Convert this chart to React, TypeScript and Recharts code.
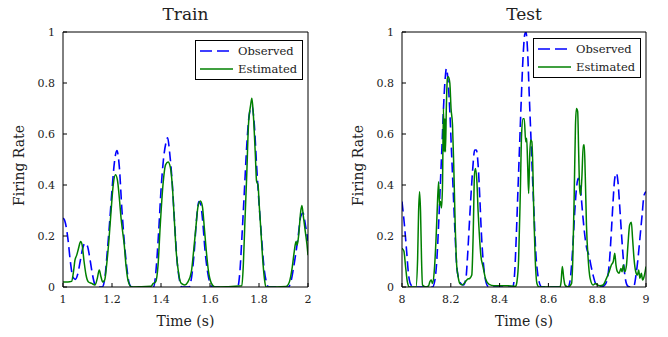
import React from 'react';
import { LineChart, Line, XAxis, YAxis, Legend } from 'recharts';

// firing rate traces (time in s, rate 0..1)
const trainObsTime = [1.00, 1.005, 1.01, 1.02, 1.03, 1.04, 1.05, 1.06, 1.07, 1.08, 1.09, 1.10, 1.11, 1.12, 1.13, 1.14, 1.16, 1.17, 1.18, 1.19, 1.20, 1.21, 1.22, 1.23, 1.24, 1.25, 1.26, 1.27, 1.28, 1.37, 1.38, 1.39, 1.40, 1.41, 1.42, 1.427, 1.435, 1.445, 1.455, 1.465, 1.475, 1.485, 1.515, 1.525, 1.535, 1.545, 1.555, 1.562, 1.57, 1.58, 1.59, 1.60, 1.61, 1.713, 1.722, 1.73, 1.74, 1.75, 1.76, 1.771, 1.781, 1.79, 1.80, 1.81, 1.82, 1.83, 1.84, 1.92, 1.93, 1.94, 1.95, 1.96, 1.97, 1.98, 1.99, 2.00];
const trainObsRate = [0.27, 0.265, 0.25, 0.19, 0.10, 0.04, 0.03, 0.05, 0.10, 0.15, 0.172, 0.16, 0.11, 0.05, 0.01, 0, 0, 0.03, 0.13, 0.25, 0.38, 0.49, 0.535, 0.47, 0.31, 0.18, 0.08, 0.015, 0, 0, 0.07, 0.21, 0.38, 0.50, 0.565, 0.585, 0.53, 0.42, 0.26, 0.11, 0.03, 0, 0, 0.04, 0.13, 0.265, 0.335, 0.325, 0.26, 0.14, 0.06, 0.015, 0, 0, 0.06, 0.19, 0.37, 0.555, 0.675, 0.71, 0.635, 0.48, 0.33, 0.2, 0.08, 0.02, 0, 0, 0.02, 0.07, 0.13, 0.2, 0.275, 0.29, 0.24, 0.18];

const trainEstTime = [1.00, 1.02, 1.035, 1.042, 1.049, 1.056, 1.063, 1.072, 1.078, 1.086, 1.094, 1.103, 1.117, 1.131, 1.14, 1.148, 1.155, 1.162, 1.17, 1.178, 1.188, 1.196, 1.205, 1.214, 1.222, 1.23, 1.237, 1.243, 1.25, 1.257, 1.267, 1.28, 1.36, 1.367, 1.378, 1.388, 1.397, 1.408, 1.419, 1.429, 1.438, 1.446, 1.454, 1.462, 1.473, 1.483, 1.497, 1.51, 1.524, 1.533, 1.542, 1.551, 1.561, 1.569, 1.577, 1.585, 1.594, 1.606, 1.62, 1.73, 1.736, 1.742, 1.75, 1.757, 1.766, 1.771, 1.777, 1.785, 1.79, 1.796, 1.801, 1.808, 1.815, 1.822, 1.828, 1.91, 1.924, 1.935, 1.944, 1.951, 1.956, 1.962, 1.97, 1.975, 1.982, 1.989, 1.996, 2.00];
const trainEstRate = [0.02, 0.02, 0.022, 0.054, 0.106, 0.125, 0.15, 0.178, 0.165, 0.10, 0.047, 0.021, 0.014, 0.008, 0.034, 0.067, 0.04, 0.02, 0.027, 0.086, 0.19, 0.295, 0.40, 0.44, 0.42, 0.348, 0.27, 0.22, 0.165, 0.086, 0.02, 0, 0.003, 0.013, 0.02, 0.086, 0.243, 0.40, 0.48, 0.49, 0.47, 0.40, 0.27, 0.14, 0.047, 0.014, 0.008, 0.02, 0.06, 0.14, 0.23, 0.315, 0.337, 0.315, 0.23, 0.14, 0.06, 0.014, 0, 0.005, 0.086, 0.243, 0.44, 0.635, 0.714, 0.74, 0.675, 0.52, 0.415, 0.40, 0.32, 0.217, 0.11, 0.034, 0, 0.002, 0.02, 0.073, 0.14, 0.178, 0.165, 0.204, 0.294, 0.32, 0.27, 0.217, 0.165, 0.125];

const testObsTime = [8.00, 8.01, 8.019, 8.027, 8.037, 8.05, 8.125, 8.136, 8.143, 8.15, 8.157, 8.164, 8.17, 8.177, 8.182, 8.189, 8.196, 8.203, 8.21, 8.217, 8.224, 8.232, 8.241, 8.252, 8.262, 8.268, 8.275, 8.282, 8.289, 8.298, 8.305, 8.312, 8.319, 8.325, 8.332, 8.34, 8.35, 8.36, 8.454, 8.462, 8.468, 8.475, 8.482, 8.489, 8.496, 8.503, 8.508, 8.515, 8.521, 8.528, 8.535, 8.542, 8.548, 8.555, 8.562, 8.573, 8.68, 8.688, 8.695, 8.702, 8.708, 8.715, 8.722, 8.729, 8.735, 8.742, 8.749, 8.757, 8.766, 8.774, 8.783, 8.793, 8.804, 8.817, 8.831, 8.842, 8.851, 8.858, 8.865, 8.872, 8.879, 8.885, 8.892, 8.899, 8.907, 8.915, 8.926, 8.94, 8.951, 8.959, 8.967, 8.975, 8.984, 8.992, 9.00];
const testObsRate = [0.335, 0.243, 0.14, 0.047, 0.008, 0, 0, 0.034, 0.11, 0.243, 0.40, 0.557, 0.70, 0.818, 0.857, 0.805, 0.688, 0.53, 0.374, 0.217, 0.086, 0.034, 0.014, 0.008, 0.034, 0.11, 0.23, 0.348, 0.452, 0.537, 0.537, 0.478, 0.348, 0.217, 0.11, 0.04, 0.005, 0, 0, 0.06, 0.19, 0.374, 0.557, 0.74, 0.90, 0.99, 1.0, 0.92, 0.765, 0.596, 0.426, 0.27, 0.14, 0.06, 0.02, 0, 0, 0.02, 0.086, 0.19, 0.295, 0.386, 0.426, 0.413, 0.348, 0.27, 0.204, 0.152, 0.125, 0.086, 0.047, 0.014, 0.003, 0, 0.008, 0.034, 0.11, 0.217, 0.335, 0.426, 0.446, 0.413, 0.32, 0.217, 0.11, 0.034, 0.003, 0, 0.005, 0.047, 0.11, 0.19, 0.282, 0.36, 0.374];

const testEstTime = [8.00, 8.008, 8.014, 8.022, 8.03, 8.057, 8.064, 8.068, 8.072, 8.076, 8.08, 8.084, 8.098, 8.109, 8.114, 8.12, 8.125, 8.132, 8.139, 8.144, 8.15, 8.154, 8.158, 8.162, 8.166, 8.17, 8.173, 8.176, 8.178, 8.182, 8.186, 8.19, 8.196, 8.201, 8.207, 8.212, 8.218, 8.224, 8.229, 8.237, 8.248, 8.259, 8.268, 8.278, 8.286, 8.292, 8.297, 8.301, 8.307, 8.312, 8.318, 8.323, 8.332, 8.343, 8.357, 8.377, 8.43, 8.466, 8.471, 8.478, 8.485, 8.49, 8.496, 8.501, 8.507, 8.511, 8.515, 8.519, 8.523, 8.527, 8.532, 8.536, 8.54, 8.546, 8.553, 8.562, 8.648, 8.652, 8.657, 8.663, 8.668, 8.681, 8.695, 8.70, 8.706, 8.711, 8.715, 8.72, 8.724, 8.728, 8.732, 8.737, 8.743, 8.747, 8.751, 8.756, 8.763, 8.771, 8.783, 8.793, 8.801, 8.811, 8.824, 8.838, 8.849, 8.858, 8.866, 8.872, 8.877, 8.883, 8.89, 8.897, 8.902, 8.907, 8.913, 8.92, 8.926, 8.933, 8.94, 8.945, 8.951, 8.958, 8.965, 8.97, 8.975, 8.981, 8.986, 8.992, 9.00];
const testEstRate = [0.152, 0.14, 0.086, 0.02, 0, 0, 0.11, 0.295, 0.374, 0.295, 0.11, 0.008, 0, 0.005, 0.02, 0.027, 0.014, 0.06, 0.178, 0.295, 0.413, 0.32, 0.335, 0.31, 0.40, 0.70, 0.53, 0.66, 0.53, 0.714, 0.818, 0.825, 0.80, 0.70, 0.635, 0.48, 0.243, 0.086, 0.047, 0.014, 0.008, 0.02, 0.03, 0.034, 0.047, 0.217, 0.44, 0.465, 0.413, 0.295, 0.19, 0.125, 0.08, 0.03, 0.01, 0.005, 0.005, 0.003, 0.02, 0.11, 0.374, 0.596, 0.66, 0.66, 0.57, 0.583, 0.478, 0.367, 0.505, 0.576, 0.57, 0.478, 0.295, 0.11, 0.014, 0, 0, 0.02, 0.08, 0.034, 0.008, 0, 0.014, 0.11, 0.374, 0.635, 0.70, 0.688, 0.53, 0.386, 0.36, 0.426, 0.557, 0.557, 0.44, 0.243, 0.11, 0.034, 0.008, 0.014, 0.008, 0.005, 0.008, 0.034, 0.06, 0.086, 0.10, 0.132, 0.086, 0.06, 0.054, 0.073, 0.06, 0.086, 0.06, 0.086, 0.165, 0.243, 0.254, 0.19, 0.11, 0.06, 0.047, 0.067, 0.034, 0.054, 0.027, 0.04, 0.08];

const rateTicks = [0, 0.2, 0.4, 0.6, 0.8, 1];
const trainTicks = [1, 1.2, 1.4, 1.6, 1.8, 2];
const testTicks = [8, 8.2, 8.4, 8.6, 8.8, 9];
const seriesNames = ['Observed', 'Estimated'];

const FONT = 'DejaVu Serif';
const BLUE = '#0000ff';
const GREEN = '#008000';
const DASH = '10 5';

const zip = (t: number[], r: number[]) => t.map((x, i) => ({ t: x, rate: r[i] }));

// boxed legend in the top right corner, entries in series order
const LegendBox = (props: any) => {
  const payload = props.payload || [];
  const entries = seriesNames.map((name) => payload.find((p: any) => p.value === name)).filter(Boolean);
  return (
    <svg width={108} height={40} style={{ display: 'block' }}>
      <rect x={0.5} y={0.5} width={107} height={39} fill="#fff" stroke="#000" />
      {entries.map((entry: any, i: number) => (
        <g key={entry.value}>
          <line
            x1={5}
            x2={38}
            y1={11 + i * 18}
            y2={11 + i * 18}
            stroke={entry.color}
            strokeWidth={1.6}
            strokeDasharray={entry.value === 'Observed' ? '12 5' : undefined}
          />
          <text x={43} y={11 + i * 18} dy="0.36em" fontSize={11.5} fill="#222" fontFamily={FONT}>
            {entry.value}
          </text>
        </g>
      ))}
    </svg>
  );
};

interface PanelProps {
  title: string;
  ticks: number[];
  observed: { t: number; rate: number }[];
  estimated: { t: number; rate: number }[];
  left: number;
  right: number;
  legendLeft: number;
  legendTop: number;
  labelDx: number;
}

const Panel = ({ title, ticks, observed, estimated, left, right, legendLeft, legendTop, labelDx }: PanelProps) => {
  const domain: [number, number] = [ticks[0], ticks[ticks.length - 1]];
  return (
    <LineChart
      width={334}
      height={337}
      margin={{ top: 31, right, bottom: 0, left }}
      style={{ fontFamily: FONT }}
    >
      <XAxis
        dataKey="t"
        type="number"
        domain={domain}
        ticks={ticks}
        allowDataOverflow
        height={50}
        stroke="#000"
        tickSize={-4}
        tickMargin={12}
        tick={{ fontSize: 11, fill: '#222' }}
        label={{ value: 'Time (s)', position: 'insideBottom', offset: 11, fontSize: 14, fill: '#222' }}
      />
      <XAxis
        xAxisId="top"
        orientation="top"
        dataKey="t"
        type="number"
        domain={domain}
        ticks={ticks}
        allowDataOverflow
        height={1}
        stroke="#000"
        tickSize={-4}
        tick={false}
        label={{ value: title, position: 'top', offset: 11.5, fontSize: 17, fill: '#222' }}
      />
      <YAxis
        type="number"
        domain={[0, 1]}
        ticks={rateTicks}
        allowDataOverflow
        width={30}
        stroke="#000"
        tickSize={-4}
        tickMargin={12}
        tick={{ fontSize: 11, fill: '#222' }}
        label={{ value: 'Firing Rate', angle: -90, position: 'center', dx: labelDx, dy: 6, fontSize: 14, fill: '#222' }}
      />
      <YAxis
        yAxisId="right"
        orientation="right"
        type="number"
        domain={[0, 1]}
        ticks={rateTicks}
        allowDataOverflow
        width={1}
        stroke="#000"
        tickSize={-4}
        tick={false}
      />
      <Legend
        layout="vertical"
        align="center"
        verticalAlign="middle"
        content={LegendBox}
        wrapperStyle={{ left: legendLeft, top: legendTop, width: 108, height: 40 }}
      />
      <Line
        data={observed}
        dataKey="rate"
        name="Observed"
        type="monotone"
        stroke={BLUE}
        strokeWidth={1.6}
        strokeDasharray={DASH}
        dot={false}
        isAnimationActive={false}
      />
      <Line
        data={estimated}
        dataKey="rate"
        name="Estimated"
        type="monotone"
        stroke={GREEN}
        strokeWidth={1.5}
        dot={false}
        isAnimationActive={false}
      />
    </LineChart>
  );
};

export default function App() {
  return (
    <div style={{ position: 'absolute', left: 0, top: 0, width: 668, height: 337, display: 'flex', background: '#fff' }}>
      <Panel
        title="Train"
        ticks={trainTicks}
        observed={zip(trainObsTime, trainObsRate)}
        estimated={zip(trainEstTime, trainEstRate)}
        left={33}
        right={25}
        legendLeft={195}
        legendTop={40}
        labelDx={-28.5}
      />
      <Panel
        title="Test"
        ticks={testTicks}
        observed={zip(testObsTime, testObsRate)}
        estimated={zip(testEstTime, testEstRate)}
        left={38}
        right={21}
        legendLeft={199}
        legendTop={38}
        labelDx={-29}
      />
    </div>
  );
}
